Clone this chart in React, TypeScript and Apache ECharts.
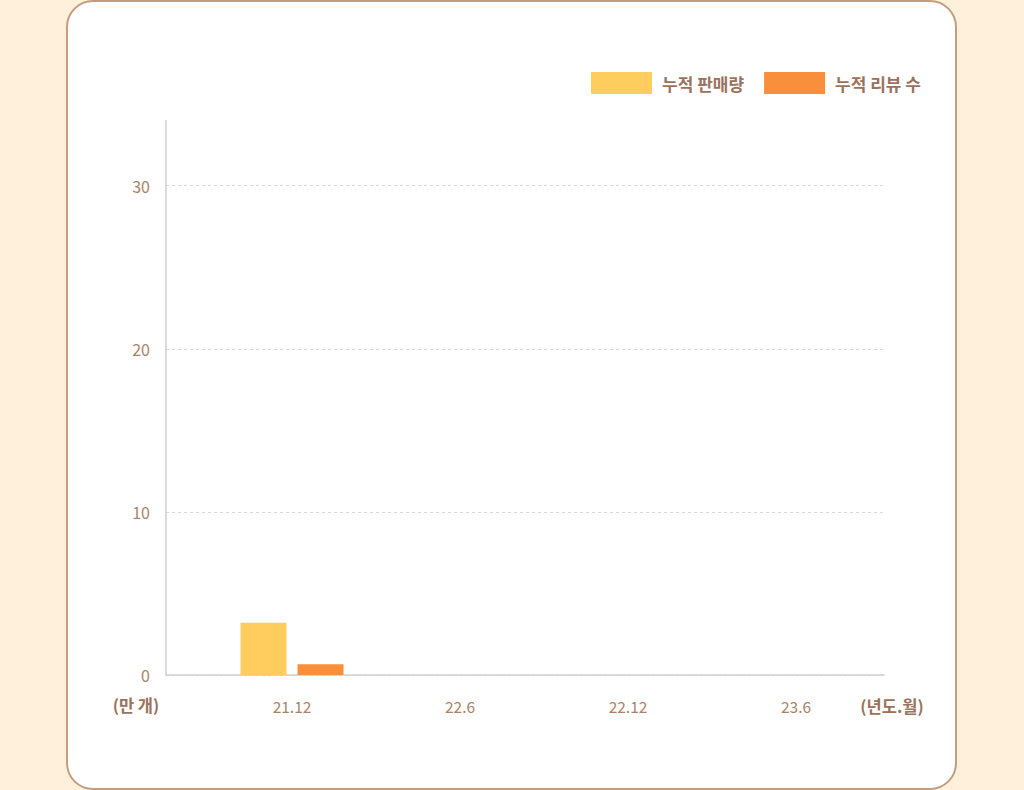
import React, { useEffect, useRef } from "react";
import * as echarts from "echarts";

const categories = ["21.12", "22.6", "22.12", "23.6"];
const salesValues = [3.2, null, null, null];
const reviewValues = [0.66, null, null, null];
const seriesNames = ["누적 판매량", "누적 리뷰 수"];
const yTicks = [0, 10, 20, 30];

const FONT = '"Noto Sans CJK KR", "Noto Sans", sans-serif';
const TEXT = "#A9836A";
const LEGEND_TEXT = "#9A725C";

export default function App() {
  const ref = useRef<HTMLDivElement>(null);
  useEffect(() => {
    if (!ref.current) return;
    const chart = echarts.init(ref.current, null, { renderer: "svg" });
    const top = 120.5;
    const bottom = 115;
    const gridColor = "#D8D8D8";
    chart.setOption({
      animation: false,
      backgroundColor: "#FFF0DC",
      textStyle: { fontFamily: FONT },
      graphic: [
        {
          type: "rect",
          z: -10,
          shape: { x: 67, y: 1, width: 889, height: 788, r: 26 },
          style: { fill: "#FFFFFF", stroke: "#C49C7E", lineWidth: 2 },
          silent: true,
        },
        {
          type: "text",
          x: 136,
          y: 705,
          style: {
            text: "(만 개)",
            fill: LEGEND_TEXT,
            font: `bold 16.5px ${FONT}`,
            textAlign: "center",
            textVerticalAlign: "middle",
          },
        },
        {
          type: "text",
          x: 892,
          y: 706,
          style: {
            text: "(년도.월)",
            fill: LEGEND_TEXT,
            font: `bold 16.5px ${FONT}`,
            textAlign: "center",
            textVerticalAlign: "middle",
          },
        },
      ],
      legend: {
        right: 98,
        top: 67,
        itemWidth: 61,
        itemHeight: 22,
        itemGap: 20,
        icon: "rect",
        textStyle: {
          color: LEGEND_TEXT,
          fontSize: 17,
          fontWeight: "bold",
          fontFamily: FONT,
          padding: [0, 0, 0, 5],
        },
        data: seriesNames,
      },
      grid: [
        { left: 166, right: 140, top, bottom, containLabel: false },
        { left: 208, width: 672, top, bottom, containLabel: false },
      ],
      xAxis: [
        {
          type: "category",
          gridIndex: 0,
          data: categories,
          axisLine: { show: true, lineStyle: { color: "#CFCFCF", width: 1.5 } },
          axisTick: { show: false },
          axisLabel: { show: false },
          splitLine: { show: false },
        },
        {
          type: "category",
          gridIndex: 1,
          data: categories,
          axisLine: { show: false },
          axisTick: { show: false },
          axisLabel: { color: TEXT, fontSize: 15.5, margin: 23, fontFamily: FONT },
        },
      ],
      yAxis: [
        {
          type: "value",
          gridIndex: 0,
          min: 0,
          max: 34,
          interval: 10,
          axisLine: { show: true, lineStyle: { color: "#CFCFCF", width: 1.5 } },
          axisTick: { show: false },
          axisLabel: {
            color: TEXT,
            fontSize: 16,
            margin: 16,
            fontFamily: FONT,
            formatter: (v: number) => (yTicks.includes(v) ? String(v) : ""),
          },
          splitLine: {
            show: true,
            lineStyle: {
              color: [gridColor, gridColor, gridColor, gridColor, "rgba(0,0,0,0)"],
              type: [3, 3],
              width: 1,
            },
          },
        },
        {
          type: "value",
          gridIndex: 1,
          min: 0,
          max: 34,
          interval: 10,
          show: false,
          splitLine: { show: false },
        },
      ],
      series: [
        {
          name: seriesNames[0],
          type: "bar",
          xAxisIndex: 1,
          yAxisIndex: 1,
          data: salesValues,
          barWidth: 46,
          barGap: "24%",
          itemStyle: { color: "#FFCC5E" },
        },
        {
          name: seriesNames[1],
          type: "bar",
          xAxisIndex: 1,
          yAxisIndex: 1,
          data: reviewValues,
          barWidth: 46,
          barGap: "24%",
          itemStyle: { color: "#F98F3B" },
        },
      ],
    });
    return () => chart.dispose();
  }, []);
  return (
    <div
      ref={ref}
      style={{ position: "absolute", left: 0, top: 0, width: 1024, height: 790 }}
    />
  );
}
